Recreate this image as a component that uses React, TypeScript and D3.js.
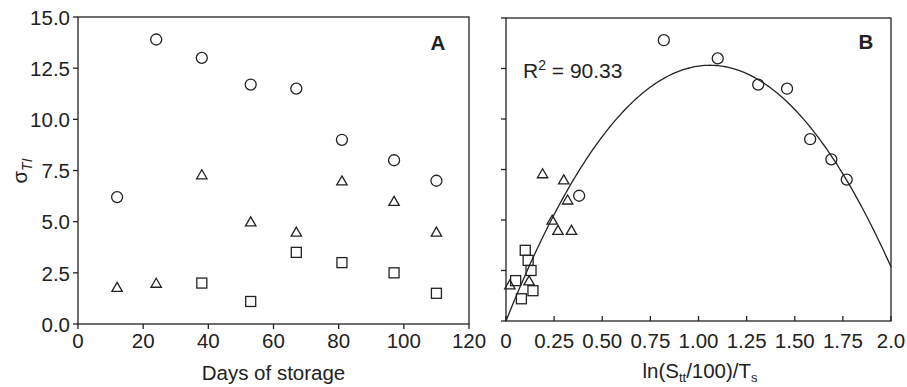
import React from 'react';
import * as d3 from 'd3';

// panel A: sigma vs days of storage
const days = [12, 24, 38, 53, 67, 81, 97, 110];
const circleSigma = [6.2, 13.9, 13.0, 11.7, 11.5, 9.0, 8.0, 7.0];
const triangleSigma = [1.8, 2.0, 7.3, 5.0, 4.5, 7.0, 6.0, 4.5];
const squareDays = [38, 53, 67, 81, 97, 110];
const squareSigma = [2.0, 1.1, 3.5, 3.0, 2.5, 1.5];

// panel B: sigma vs ln(Stt/100)/Ts
const circleLn = [0.38, 0.82, 1.1, 1.31, 1.46, 1.58, 1.69, 1.77];
const triangleLn = [0.02, 0.12, 0.19, 0.24, 0.27, 0.3, 0.32, 0.34];
const squareLn = [0.05, 0.08, 0.1, 0.115, 0.13, 0.14];
// quadratic fit y = c0 + c1 x + c2 x^2
const fitCoef = [0, 23.9, -11.28];

const yTicks = [0, 2.5, 5, 7.5, 10, 12.5, 15];
const daysTicks = [0, 20, 40, 60, 80, 100, 120];
const lnTicks = [0, 0.25, 0.5, 0.75, 1.0, 1.25, 1.5, 1.75, 2.0];
const lnTickLabels = ['0', '0.25', '0.50', '0.75', '1.00', '1.25', '1.50', '1.75', '2.0'];

const ink = '#222';
const font = '"Liberation Sans", Arial, sans-serif';
const fs = 20.5;

const Circle = ({ x, y }: { x: number; y: number }) => (
  <circle cx={x} cy={y} r={5.5} fill="none" stroke={ink} strokeWidth={1.3} />
);
const Square = ({ x, y }: { x: number; y: number }) => (
  <rect x={x - 5} y={y - 5} width={10} height={10} fill="none" stroke={ink} strokeWidth={1.3} />
);
const Triangle = ({ x, y }: { x: number; y: number }) => (
  <path
    d={`M${x},${y - 4.8}L${x + 5.2},${y + 4.2}L${x - 5.2},${y + 4.2}Z`}
    fill="none"
    stroke={ink}
    strokeWidth={1.3}
  />
);

const App = () => {
  const xA = d3.scaleLinear().domain([0, 120]).range([78, 469]);
  const yA = d3.scaleLinear().domain([0, 15]).range([324, 17]);
  const xB = d3.scaleLinear().domain([0, 2]).range([506, 891]);
  const yB = d3.scaleLinear().domain([0, 15]).range([321, 18]);

  const fit = (x: number) => fitCoef[0] + fitCoef[1] * x + fitCoef[2] * x * x;
  const curve = d3
    .line<number>()
    .x((d) => xB(d))
    .y((d) => yB(fit(d)))(d3.range(0, 2.0001, 0.01));

  return (
    <div style={{ position: 'absolute', left: 0, top: 0 }}>
      <svg width={907} height={387} style={{ display: 'block', fontFamily: font }}>
        <rect width={907} height={387} fill="#fff" />
        {/* Panel A frame */}
        <rect x={78} y={17} width={391} height={307} fill="none" stroke={ink} strokeWidth={1.3} />
        {yTicks.map((t) => (
          <g key={'ya' + t}>
            <line x1={73} x2={78} y1={yA(t)} y2={yA(t)} stroke={ink} strokeWidth={1.3} />
            <text x={70} y={yA(t)} dy="0.38em" textAnchor="end" fontSize={fs} fill={ink}>
              {t.toFixed(1)}
            </text>
          </g>
        ))}
        {daysTicks.map((t) => (
          <g key={'xa' + t}>
            <line x1={xA(t)} x2={xA(t)} y1={324} y2={329} stroke={ink} strokeWidth={1.3} />
            <text x={xA(t)} y={348} textAnchor="middle" fontSize={fs} fill={ink}>
              {t}
            </text>
          </g>
        ))}
        {days.map((d, i) => (
          <Circle key={'ca' + i} x={xA(d)} y={yA(circleSigma[i])} />
        ))}
        {days.map((d, i) => (
          <Triangle key={'ta' + i} x={xA(d)} y={yA(triangleSigma[i])} />
        ))}
        {squareDays.map((d, i) => (
          <Square key={'sa' + i} x={xA(d)} y={yA(squareSigma[i])} />
        ))}
        <text x={438} y={50} textAnchor="middle" fontSize={fs} fontWeight="bold" fill={ink}>
          A
        </text>
        <text x={273.5} y={380} textAnchor="middle" fontSize={fs} fill={ink}>
          Days of storage
        </text>
        <text transform="translate(27,171) rotate(-90)" textAnchor="middle" fontSize={fs} fill={ink}>
          σ
          <tspan fontSize={14} fontStyle="italic" dy={5}>
            TI
          </tspan>
        </text>

        {/* Panel B frame */}
        <rect x={506} y={18} width={385} height={303} fill="none" stroke={ink} strokeWidth={1.3} />
        {yTicks.map((t) => (
          <line key={'yb' + t} x1={501} x2={506} y1={yB(t)} y2={yB(t)} stroke={ink} strokeWidth={1.3} />
        ))}
        {lnTicks.map((t, i) => (
          <g key={'xb' + t}>
            <line x1={xB(t)} x2={xB(t)} y1={321} y2={316} stroke={ink} strokeWidth={1.3} />
            <text x={xB(t)} y={348} textAnchor="middle" fontSize={fs} fill={ink}>
              {lnTickLabels[i]}
            </text>
          </g>
        ))}
        <path d={curve ?? ''} fill="none" stroke={ink} strokeWidth={1.3} />
        {circleLn.map((v, i) => (
          <Circle key={'cb' + i} x={xB(v)} y={yB(circleSigma[i])} />
        ))}
        {triangleLn.map((v, i) => (
          <Triangle key={'tb' + i} x={xB(v)} y={yB(triangleSigma[i])} />
        ))}
        {squareLn.map((v, i) => (
          <Square key={'sb' + i} x={xB(v)} y={yB(squareSigma[i])} />
        ))}
        <text x={866} y={49} textAnchor="middle" fontSize={fs} fontWeight="bold" fill={ink}>
          B
        </text>
        <text x={523} y={78} fontSize={21} fill={ink}>
          R<tspan fontSize={14} dy={-8}>2</tspan>
          <tspan dy={8}> = 90.33</tspan>
        </text>
        <text x={700} y={378} textAnchor="middle" fontSize={fs} fill={ink}>
          ln(S<tspan fontSize={13} dy={4}>tt</tspan>
          <tspan dy={-4}>/100)/T</tspan>
          <tspan fontSize={13} dy={4}>s</tspan>
        </text>
      </svg>
    </div>
  );
};

export default App;
